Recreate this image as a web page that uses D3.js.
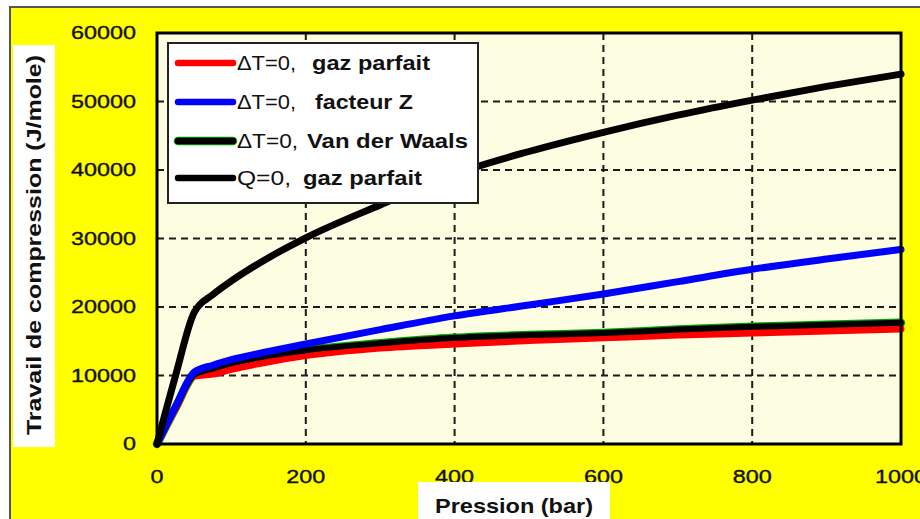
<!DOCTYPE html>
<html>
<head>
<script src="https://cdn.jsdelivr.net/npm/d3@7"></script>
<style>
  body { margin: 0; background: #fff; }
  svg text { font-family: "Liberation Sans", Arial, sans-serif; fill: #111; }
  .tick-label { font-size: 18px; stroke: #111; stroke-width: 0.35px; }
  .axis-title { font-size: 21px; font-weight: bold; }
  .legend text { font-size: 21px; }
  .grid { stroke: #1a1a1a; stroke-width: 2px; stroke-dasharray: 7 5; }
</style>
</head>
<body>
<div id="chart"></div>
<script>
// pressure (bar)
const pressure = [0, 25, 50, 75, 100, 150, 200, 300, 400, 500, 600, 700, 800, 900, 1000];
// compression work (J/mole)
const qZeroIdeal = [0, 10000, 19200, 21800, 23800, 27200, 30100, 34900, 39400, 42700, 45500, 48000, 50200, 52200, 54000];
const dtZeroZ = [0, 5500, 10500, 11500, 12300, 13500, 14600, 16700, 18700, 20300, 21900, 23700, 25500, 27000, 28400];
const dtZeroVdw = [0, 5300, 10100, 11000, 11800, 12900, 13700, 14700, 15500, 15900, 16200, 16700, 17100, 17400, 17700];
const dtZeroIdeal = [0, 5200, 9900, 10200, 10900, 12000, 12900, 14000, 14600, 15100, 15500, 15900, 16200, 16500, 16800];

const xTicks = [0, 200, 400, 600, 800, 1000];
const yTicks = [0, 10000, 20000, 30000, 40000, 50000, 60000];

const width = 920, height = 519;
const plot = { left: 157, right: 901, top: 33, bottom: 444 };

const svg = d3.select('#chart').append('svg')
  .attr('width', width)
  .attr('height', height);

// yellow frame
svg.append('rect')
  .attr('x', 10).attr('y', 7)
  .attr('width', width).attr('height', height)
  .attr('fill', '#ffff00')
  .attr('stroke', '#555').attr('stroke-width', 2);

const x = d3.scaleLinear().domain([0, 1000]).range([plot.left, plot.right]);
const y = d3.scaleLinear().domain([0, 60000]).range([plot.bottom, plot.top]);

// plot background
svg.append('rect')
  .attr('x', plot.left).attr('y', plot.top)
  .attr('width', plot.right - plot.left).attr('height', plot.bottom - plot.top)
  .attr('fill', '#fdfde2');

// grid
svg.append('g').selectAll('line')
  .data(xTicks.slice(1, -1))
  .join('line')
  .attr('class', 'grid')
  .attr('x1', d => x(d)).attr('x2', d => x(d))
  .attr('y1', plot.top).attr('y2', plot.bottom);

svg.append('g').selectAll('line')
  .data(yTicks.slice(1, -1))
  .join('line')
  .attr('class', 'grid')
  .attr('x1', plot.left).attr('x2', plot.right)
  .attr('y1', d => y(d)).attr('y2', d => y(d));

// tick labels (the source font is wide, so stretch glyphs)
const charW = 13;
svg.append('g').selectAll('text')
  .data(yTicks)
  .join('text')
  .attr('class', 'tick-label')
  .attr('x', d => 136 - String(d).length * charW)
  .attr('y', d => y(d))
  .attr('dy', '0.35em')
  .attr('textLength', d => String(d).length * charW)
  .attr('lengthAdjust', 'spacingAndGlyphs')
  .text(d => d);

svg.append('g').selectAll('text')
  .data(xTicks)
  .join('text')
  .attr('class', 'tick-label')
  .attr('x', d => x(d) - String(d).length * charW / 2)
  .attr('y', 477)
  .attr('dy', '0.35em')
  .attr('textLength', d => String(d).length * charW)
  .attr('lengthAdjust', 'spacingAndGlyphs')
  .text(d => d);

// curves
const line = d3.line()
  .x((d, i) => x(pressure[i]))
  .y(d => y(d))
  .curve(d3.curveMonotoneX);

const curves = svg.append('g').attr('fill', 'none').attr('stroke-linecap', 'round');
curves.append('path').attr('d', line(dtZeroVdw)).attr('stroke', '#00a000').attr('stroke-width', 8.5);
curves.append('path').attr('d', line(dtZeroIdeal)).attr('stroke', '#ff0000').attr('stroke-width', 7);
curves.append('path').attr('d', line(dtZeroVdw)).attr('stroke', '#000').attr('stroke-width', 6);
curves.append('path').attr('d', line(dtZeroZ)).attr('stroke', '#0000ff').attr('stroke-width', 7);
curves.append('path').attr('d', line(qZeroIdeal)).attr('stroke', '#000').attr('stroke-width', 7);

// plot border
svg.append('rect')
  .attr('x', plot.left).attr('y', plot.top)
  .attr('width', plot.right - plot.left).attr('height', plot.bottom - plot.top)
  .attr('fill', 'none')
  .attr('stroke', '#000').attr('stroke-width', 3);

// legend
const legendItems = [
  { key: '\u0394T=0,', keyW: 59, label: 'gaz parfait', color: '#ff0000', edge: null, lx: 312, lw: 118 },
  { key: '\u0394T=0,', keyW: 59, label: 'facteur Z', color: '#0000ff', edge: null, lx: 315, lw: 98 },
  { key: '\u0394T=0,', keyW: 61, label: 'Van der Waals', color: '#000', edge: '#00a000', lx: 307, lw: 161 },
  { key: 'Q=0,', keyW: 54, label: 'gaz parfait', color: '#000', edge: null, lx: 303, lw: 119 }
];
const legendRows = [63, 102, 141, 178];

const legend = svg.append('g').attr('class', 'legend');
legend.append('rect')
  .attr('x', 168).attr('y', 43)
  .attr('width', 310).attr('height', 160)
  .attr('fill', '#fff')
  .attr('stroke', '#222').attr('stroke-width', 2);

const rows = legend.selectAll('g.row')
  .data(legendItems)
  .join('g')
  .attr('class', 'row')
  .attr('transform', (d, i) => `translate(0,${legendRows[i]})`);

rows.filter(d => d.edge)
  .append('line')
  .attr('x1', 178).attr('x2', 233)
  .attr('stroke', d => d.edge).attr('stroke-width', 8.5)
  .attr('stroke-linecap', 'round');

rows.append('line')
  .attr('x1', 178).attr('x2', 233)
  .attr('stroke', d => d.color).attr('stroke-width', 6.5)
  .attr('stroke-linecap', 'round');

rows.append('text')
  .attr('x', 237).attr('dy', '0.35em')
  .attr('textLength', d => d.keyW)
  .attr('lengthAdjust', 'spacingAndGlyphs')
  .text(d => d.key);

rows.append('text')
  .attr('x', d => d.lx).attr('dy', '0.35em')
  .attr('font-weight', 'bold')
  .attr('textLength', d => d.lw)
  .attr('lengthAdjust', 'spacingAndGlyphs')
  .text(d => d.label);

// axis titles with white backing
svg.append('rect')
  .attr('x', 13).attr('y', 45).attr('width', 42).attr('height', 402)
  .attr('fill', '#fff');
svg.append('text')
  .attr('class', 'axis-title')
  .attr('transform', 'translate(41,435) rotate(-90)')
  .attr('textLength', 380)
  .attr('lengthAdjust', 'spacingAndGlyphs')
  .text('Travail de compression (J/mole)');

svg.append('rect')
  .attr('x', 418).attr('y', 482).attr('width', 192).attr('height', 37)
  .attr('fill', '#fff');
svg.append('text')
  .attr('class', 'axis-title')
  .attr('x', 435).attr('y', 513)
  .attr('textLength', 158)
  .attr('lengthAdjust', 'spacingAndGlyphs')
  .text('Pression (bar)');
</script>
</body>
</html>
